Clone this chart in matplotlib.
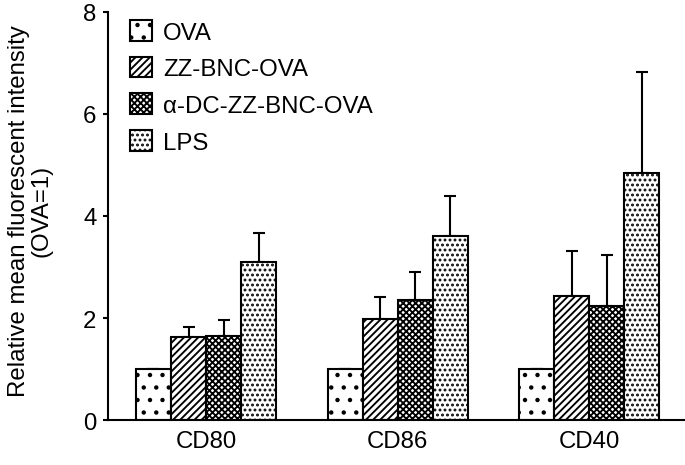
import numpy as np
import matplotlib.pyplot as plt

plt.rcParams['font.family'] = ['Liberation Sans', 'DejaVu Sans']
plt.rcParams['font.size'] = 11.5
plt.rcParams['hatch.linewidth'] = 0.9

markers = ['CD80', 'CD86', 'CD40']
groups = ['OVA', 'ZZ-BNC-OVA', 'α-DC-ZZ-BNC-OVA', 'LPS']

ova = [1.0, 1.0, 1.0]
zz = [1.63, 1.98, 2.44]
adc = [1.65, 2.35, 2.23]
lps = [3.10, 3.61, 4.84]

ova_err = [0.0, 0.0, 0.0]
zz_err = [0.20, 0.43, 0.88]
adc_err = [0.31, 0.56, 1.01]
lps_err = [0.56, 0.78, 1.99]

hatches = ['..', '///////', 'xxxxxxxx', '.....']

fig = plt.figure(figsize=(685/150, 466/150), dpi=150)
ax = fig.add_axes([108/685, 1-421/466, 1-108/685, (421-13)/466])

x = np.arange(len(markers))
w = 0.183
series = [(ova, ova_err), (zz, zz_err), (adc, adc_err), (lps, lps_err)]
for i, (vals, errs) in enumerate(series):
    pos = x + (i - 1.5)*w
    ax.bar(pos, vals, w, color='white', edgecolor='black', linewidth=1.0,
           hatch=hatches[i], label=groups[i], zorder=2)
    ax.errorbar(pos, vals, yerr=[np.zeros(3), errs], fmt='none', ecolor='black',
                elinewidth=1.0, capsize=2.9, capthick=1.0, zorder=1)

ax.set_xlim(-0.512, 2.5)
ax.set_ylim(0, 8)
ax.set_yticks([0, 2, 4, 6, 8])
ax.set_xticks(x)
ax.set_xticklabels(markers)
ax.tick_params(axis='x', length=0, pad=5)
ax.tick_params(axis='y', length=2.5, width=1.0, direction='out', pad=3)
ax.spines['top'].set_visible(False)
ax.spines['right'].set_visible(False)
ax.spines['left'].set_linewidth(1.0)
ax.spines['bottom'].set_linewidth(1.0)
ax.set_ylabel('Relative mean fluorescent intensity\n(OVA=1)', linespacing=1.0)
ax.yaxis.set_label_coords(-0.097, 0.515)

ax.legend(loc='upper left', bbox_to_anchor=(0.021, 1.004), frameon=False,
          handlelength=0.95, handleheight=0.95, handletextpad=0.45,
          labelspacing=0.55, borderaxespad=0)

fig.savefig('out.png', dpi=150)
